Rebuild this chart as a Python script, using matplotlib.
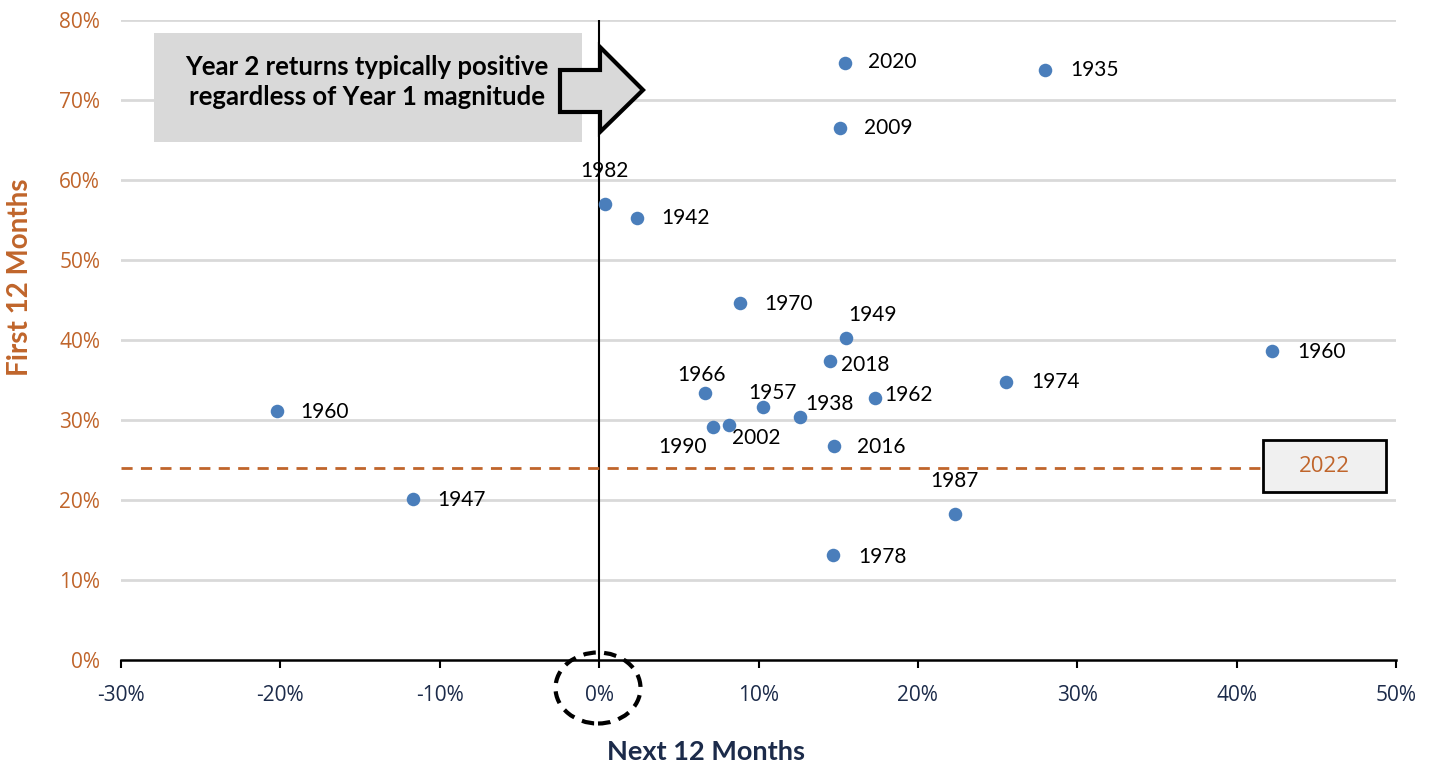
import numpy as np
import matplotlib
matplotlib.use("Agg")
import matplotlib.pyplot as plt
from matplotlib.patches import Ellipse, Rectangle, Polygon

# donnees (en %)
annees = ["2020", "1935", "2009", "1982", "1942", "1970", "1949", "2018", "1960",
          "1974", "1966", "1957", "1938", "1962", "1990", "2002", "2016", "1960",
          "1947", "1987", "1978"]
next12 = [15.4, 27.95, 15.1, 0.35, 2.35, 8.86, 15.5, 14.46, 42.25,
          25.5, 6.64, 10.28, 12.62, 17.33, 7.16, 8.12, 14.71, -20.2,
          -11.7, 22.3, 14.7]
first12 = [74.6, 73.7, 66.5, 57.0, 55.2, 44.55, 40.2, 37.4, 38.6,
           34.7, 33.4, 31.6, 30.4, 32.7, 29.1, 29.3, 26.75, 31.1,
           20.1, 18.2, 13.1]
niveau_2022 = 24.0

x_ticks = [-30, -20, -10, 0, 10, 20, 30, 40, 50]
y_ticks = [0, 10, 20, 30, 40, 50, 60, 70, 80]

# decalages des etiquettes (pixels)
offsets = [(48, 1), (50, 0), (48, 0), (0, 33), (49, 0), (48, -1), (26, 23), (36, -4), (49, -1),
           (50, 0), (-3, 18), (10, 14), (29, 13), (33, 3), (-31, -20), (28, -13), (48, -1), (47, -1),
           (49, -1), (0, 33), (49, -2)]

ORANGE = "#c0652b"
NAVY = "#1c2b4a"
BLEU = "#4a7ebb"

W, H = 1440, 767
fig = plt.figure(figsize=(W / 100, H / 100), dpi=100)
ax = fig.add_axes([121 / W, 1 - 659.7 / H, (1396 - 121) / W, (659.7 - 19.7) / H])

def fx(p):
    return p / W

def fy(p):
    return 1 - p / H

ax.set_xlim(-30, 50)
ax.set_ylim(0, 80)

# grille horizontale
for yv in y_ticks[1:]:
    ax.axhline(yv, color="#d9d9d9", lw=2, zorder=0)

ax.axvline(0, color="black", lw=1.5, zorder=1)
ax.axhline(niveau_2022, xmax=(1263 - 121) / (1396 - 121), color=ORANGE, lw=2,
           ls=(0, (4, 3)), zorder=1)

ax.scatter(next12, first12, s=95, color=BLEU, zorder=3, linewidths=0)
for i in range(len(annees)):
    ax.annotate(annees[i], (next12[i], first12[i]), xytext=offsets[i],
                textcoords="offset pixels", ha="center", va="center",
                fontsize=15, family="Lato", color="black", zorder=4)

for s in ["top", "right", "left"]:
    ax.spines[s].set_visible(False)
ax.spines["bottom"].set_linewidth(1.8)
ax.set_xticks(x_ticks)
ax.set_xticklabels([f"{v}%" for v in x_ticks])
ax.set_yticks(y_ticks)
ax.set_yticklabels([f"{v}%" for v in y_ticks])
ax.tick_params(axis="x", length=6, width=1.5, colors="black", labelcolor=NAVY,
               labelsize=15, pad=12)
ax.tick_params(axis="y", length=0, labelcolor=ORANGE, labelsize=15, pad=15)
for lab in ax.get_xticklabels() + ax.get_yticklabels():
    lab.set_family("Open Sans")

# boite 2022
fig.add_artist(Rectangle((fx(1263), fy(492)), (1385.7 - 1263) / W, (492 - 440) / H,
                         transform=fig.transFigure, facecolor="#f0f0f0",
                         edgecolor="black", lw=2, zorder=5))
fig.text(fx(1324), fy(467), "2022", color=ORANGE, fontsize=16, family="Open Sans",
         ha="center", va="center", zorder=6)

# boite grise + fleche
fig.add_artist(Rectangle((fx(154), fy(142)), (582 - 154) / W, (142 - 33) / H,
                         transform=fig.transFigure, facecolor="#d9d9d9",
                         edgecolor="none", zorder=5))
fleche = [(560, 70), (600, 70), (600, 47), (643, 90), (600, 132), (600, 112), (560, 112)]
fig.add_artist(Polygon([(fx(a), fy(b)) for a, b in fleche], closed=True,
                       transform=fig.transFigure, facecolor="#d9d9d9",
                       edgecolor="black", lw=3, zorder=6))
fig.text(fx(367), fy(82), "Year 2 returns typically positive\nregardless of Year 1 magnitude",
         ha="center", va="center", fontsize=18.5, fontweight="bold", family="Lato",
         linespacing=1.3, zorder=7)

# cercle pointille autour de 0%
fig.add_artist(Ellipse((fx(598), fy(688)), 85 / W, 71 / H, transform=fig.transFigure,
                       fill=False, edgecolor="black", lw=3, ls=(0, (3, 2))))

fig.text(fx(20), fy(277), "First 12 Months", rotation=90, color=ORANGE, fontsize=20,
         fontweight="bold", family="Lato", ha="center", va="center")
fig.text(fx(706), fy(752), "Next 12 Months", color=NAVY, fontsize=19.5,
         fontweight="bold", family="Lato", ha="center", va="center")

fig.savefig("out.png", dpi=100)
